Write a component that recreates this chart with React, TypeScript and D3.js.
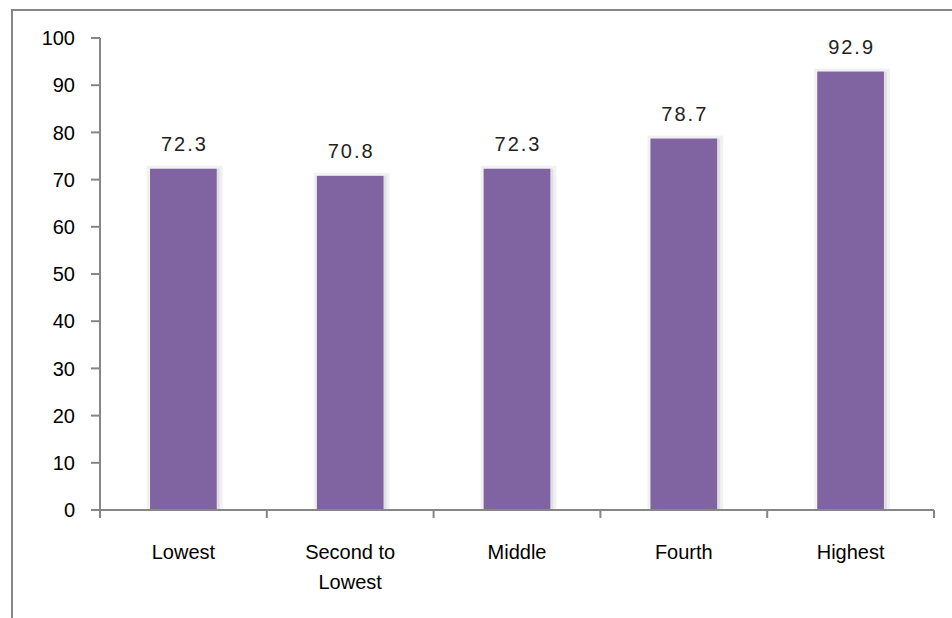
import React from "react";
import * as d3 from "d3";

const categories: string[][] = [["Lowest"], ["Second to", "Lowest"], ["Middle"], ["Fourth"], ["Highest"]];
const values: number[] = [72.3, 70.8, 72.3, 78.7, 92.9];
const yTicks: number[] = [0, 10, 20, 30, 40, 50, 60, 70, 80, 90, 100];

const W = 952;
const H = 618;
const left = 100;
const right = 934;
const top = 38;
const bottom = 510;

export default function App() {
  const x = d3.scaleBand<number>().domain(values.map((_, i) => i)).range([left, right]).padding(0);
  const y = d3.scaleLinear().domain([0, 100]).range([bottom, top]);
  const bw = x.bandwidth() * 0.4;
  const font = "'Liberation Sans', Arial, sans-serif";
  const axisColor = "#868686";
  const boundaries = d3.range(values.length + 1).map((i) => left + i * x.step());

  return (
    <svg width={W} height={H} style={{ position: "absolute", left: 0, top: 0, background: "#fff" }} fontFamily={font}>
      <rect x={12} y={10} width={1000} height={700} fill="#fff" stroke={axisColor} strokeWidth={2} />
      {values.map((v, i) => {
        const cx = (x(i) as number) + x.bandwidth() / 2;
        const bx = cx - bw / 2;
        return (
          <g key={i}>
            <rect x={bx - 3} y={y(v) - 3} width={bw + 9} height={bottom - y(v) + 3} fill="#f1f1f1" />
            <rect x={bx + bw} y={y(v)} width={3} height={bottom - y(v)} fill="#e0e0e0" />
            <rect x={bx} y={y(v)} width={bw} height={bottom - y(v)} fill="#8064A2" />
            <text x={cx + 1} y={y(v) - 18} textAnchor="middle" fontSize={20} letterSpacing={2} fill="#222">
              {v.toFixed(1)}
            </text>
          </g>
        );
      })}
      <line x1={left} x2={left} y1={top} y2={bottom} stroke={axisColor} strokeWidth={2} />
      <line x1={left - 9} x2={right} y1={bottom} y2={bottom} stroke={axisColor} strokeWidth={2} />
      {yTicks.map((t) => (
        <g key={t}>
          <line x1={left - 9} x2={left} y1={y(t)} y2={y(t)} stroke={axisColor} strokeWidth={2} />
          <text x={75} y={y(t)} dy="0.36em" textAnchor="end" fontSize={20} fill="#000">
            {t}
          </text>
        </g>
      ))}
      {boundaries.map((b, i) => (
        <line key={i} x1={b} x2={b} y1={bottom} y2={bottom + 8} stroke={axisColor} strokeWidth={2} />
      ))}
      {categories.map((lines, i) => {
        const cx = (x(i) as number) + x.bandwidth() / 2;
        return (
          <text key={i} x={cx} y={559} textAnchor="middle" fontSize={20} fill="#000">
            {lines.map((l, j) => (
              <tspan key={j} x={cx} dy={j === 0 ? 0 : 30}>
                {l}
              </tspan>
            ))}
          </text>
        );
      })}
    </svg>
  );
}
